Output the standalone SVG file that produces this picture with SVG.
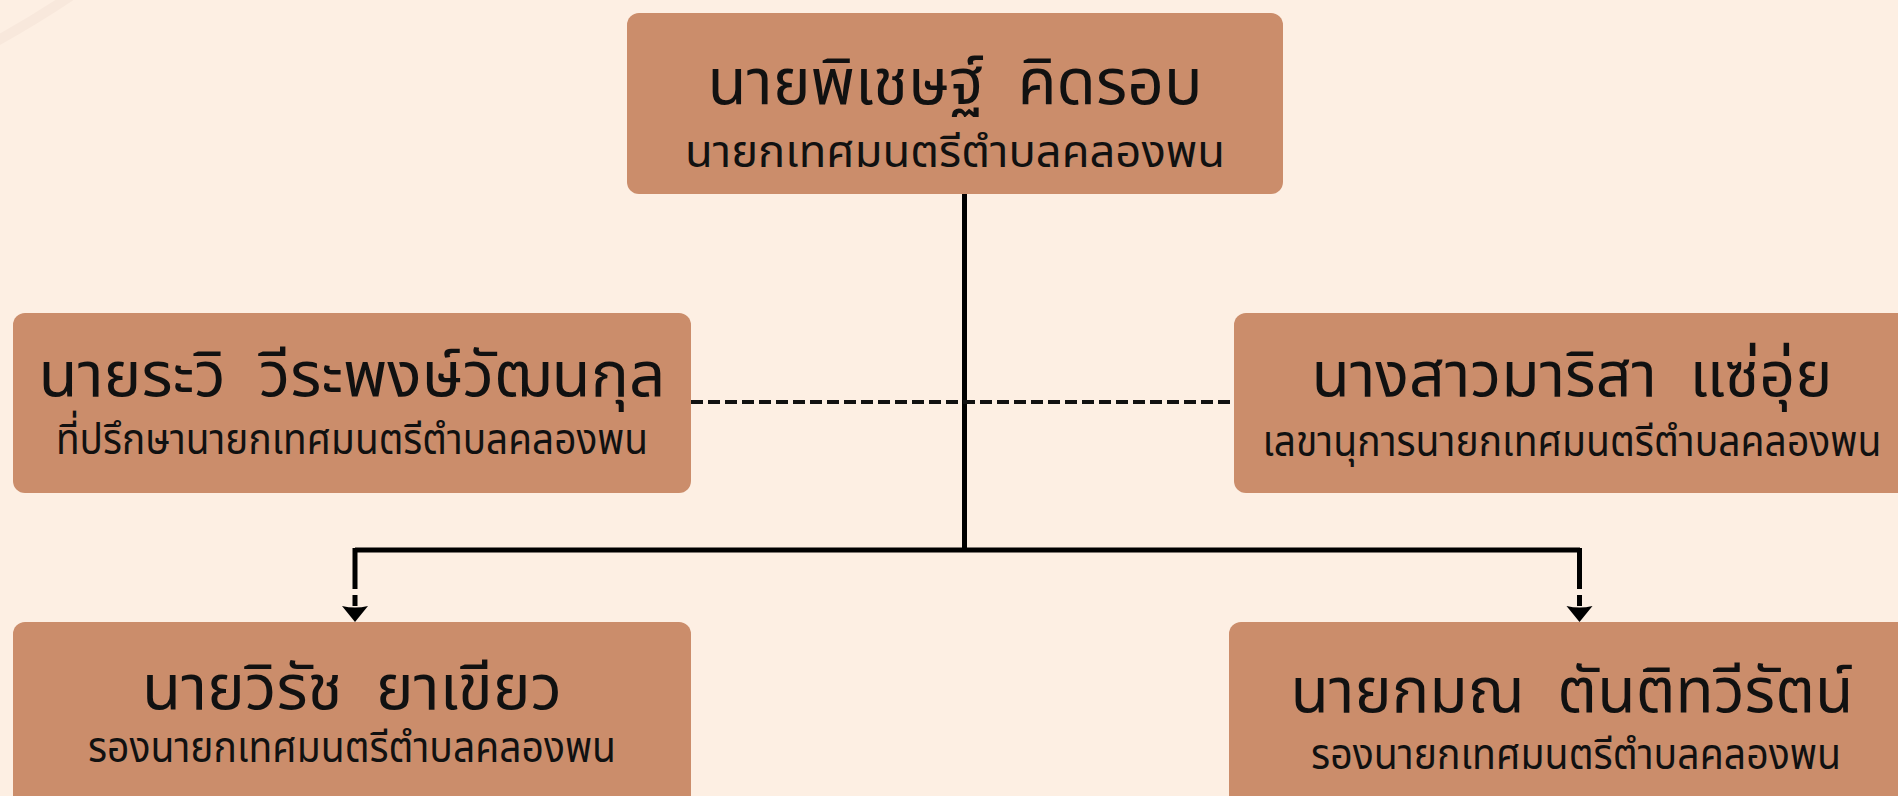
<svg xmlns="http://www.w3.org/2000/svg" width="1898" height="796" viewBox="0 0 1898 796">
<defs>
<style>
.bg{fill:#FDEFE3}
.box{fill:#CB8D6B}
.t{font-family:"Noto Sans Thai","Noto Sans Thai UI","Noto Sans",sans-serif;fill:#111;text-anchor:middle;white-space:pre}
.name{font-size:63px}
.role{font-size:43px}
.solid{fill:none;stroke:#000;stroke-width:5}
.dash{fill:none;stroke:#111;stroke-width:4;stroke-dasharray:12 5}
</style>
<marker id="arr" markerUnits="userSpaceOnUse" viewBox="0 0 16 28" refX="0" refY="14" markerWidth="16" markerHeight="28" orient="auto">
<path d="M0 1 Q3 14 0 27 L16 14 Z" fill="#000"/>
</marker>
</defs>
<rect class="bg" x="0" y="0" width="1898" height="796"/>
<path d="M-5 42 Q35 20 72 -5" fill="none" stroke="#F8E8DC" stroke-width="10"/>
<g id="connectors">
<path class="solid" d="M964.5 194 V550" stroke-width="6"/>
<path class="solid" d="M355 550 H1580"/>
<path class="solid" d="M355 548 V589" stroke-width="6"/>
<path class="solid" d="M355 595 V606" stroke-width="6" marker-end="url(#arr)"/>
<path class="solid" d="M1579.5 548 V589" stroke-width="6"/>
<path class="solid" d="M1579.5 595 V606" stroke-width="6" marker-end="url(#arr)"/>
<path class="dash" d="M691 402 H1234"/>
</g>
<g id="n-top">
<rect class="box" x="627" y="13" width="656" height="181" rx="12"/>
<text class="t name" x="955" y="104" xml:space="preserve" textLength="495" lengthAdjust="spacingAndGlyphs" style="font-size:65px">นายพิเชษฐ์  คิดรอบ</text>
<text class="t role" x="955" y="167" textLength="540" lengthAdjust="spacingAndGlyphs" style="font-size:45px">นายกเทศมนตรีตำบลคลองพน</text>
</g>
<g id="n-advisor">
<rect class="box" x="13" y="313" width="678" height="180" rx="12"/>
<text class="t name" x="352" y="396" xml:space="preserve" textLength="627" lengthAdjust="spacingAndGlyphs">นายระวิ  วีระพงษ์วัฒนกุล</text>
<text class="t role" x="352" y="454" textLength="592" lengthAdjust="spacingAndGlyphs">ที่ปรึกษานายกเทศมนตรีตำบลคลองพน</text>
</g>
<g id="n-secretary">
<rect class="box" x="1234" y="313" width="690" height="180" rx="12"/>
<text class="t name" x="1572" y="396" xml:space="preserve" textLength="521" lengthAdjust="spacingAndGlyphs">นางสาวมาริสา  แซ่อุ่ย</text>
<text class="t role" x="1572" y="456" textLength="619" lengthAdjust="spacingAndGlyphs">เลขานุการนายกเทศมนตรีตำบลคลองพน</text>
</g>
<g id="n-deputy1">
<rect class="box" x="13" y="622" width="678" height="200" rx="12"/>
<text class="t name" x="352" y="709" xml:space="preserve" textLength="420" lengthAdjust="spacingAndGlyphs">นายวิรัช  ยาเขียว</text>
<text class="t role" x="352" y="762" textLength="528" lengthAdjust="spacingAndGlyphs">รองนายกเทศมนตรีตำบลคลองพน</text>
</g>
<g id="n-deputy2">
<rect class="box" x="1229" y="622" width="700" height="200" rx="12"/>
<text class="t name" x="1572" y="712" xml:space="preserve" textLength="563" lengthAdjust="spacingAndGlyphs">นายกมณ  ตันติทวีรัตน์</text>
<text class="t role" x="1576" y="769" textLength="530" lengthAdjust="spacingAndGlyphs">รองนายกเทศมนตรีตำบลคลองพน</text>
</g>
</svg>
